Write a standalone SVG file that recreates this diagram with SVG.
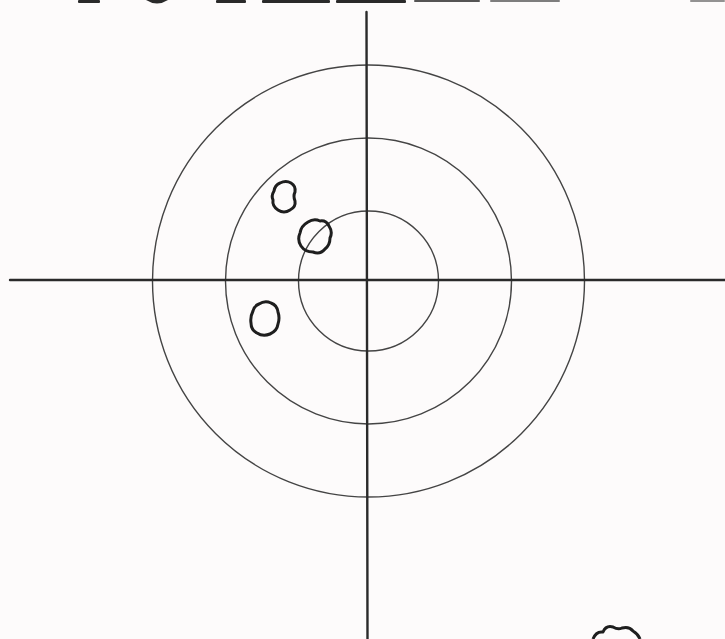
<svg xmlns="http://www.w3.org/2000/svg" width="725" height="639" viewBox="0 0 725 639">
  <style>
    .ring { fill: none; stroke: #444; stroke-width: 1.4; }
    .axis { stroke: #2a2a2a; stroke-width: 2.4; stroke-linecap: round; }
    .hole { fill: none; stroke: #1e1e1e; stroke-width: 3; stroke-linejoin: round; }
    .frag { fill: #2a2a2a; }
  </style>
  <rect width="725" height="639" fill="#fdfbfb"/>
  <g id="top-fragments">
    <rect class="frag" x="78" y="0" width="22" height="3" rx="1"/>
    <path class="frag" d="M146 0 Q157 7 168 0 Z"/>
    <rect class="frag" x="216" y="0" width="30" height="3" rx="1"/>
    <rect class="frag" x="262" y="0" width="68" height="3" rx="1"/>
    <rect class="frag" x="336" y="0" width="70" height="3" rx="1"/>
    <rect class="frag" x="414" y="0" width="66" height="2" rx="1" opacity="0.8"/>
    <rect class="frag" x="490" y="0" width="70" height="2" rx="1" opacity="0.6"/>
    <rect class="frag" x="690" y="0" width="35" height="2" rx="1" opacity="0.5"/>
  </g>
  <g id="target">
    <circle class="ring" cx="368.5" cy="281" r="216"/>
    <circle class="ring" cx="368.5" cy="281" r="143"/>
    <circle class="ring" cx="368.5" cy="281" r="70"/>
  </g>
  <g id="axes">
    <line class="axis" x1="10" y1="280" x2="725" y2="280"/>
    <line class="axis" x1="366.5" y1="12" x2="367.5" y2="639"/>
  </g>
  <g id="holes">
    <path class="hole" d="M280 183 Q286 180 291 183 Q296 186 295 192 Q293 196 295 201 Q296 207 290 210 Q284 214 278 210 Q272 206 273 200 Q271 196 274 191 Q275 185 280 183 Z"/>
    <path class="hole" d="M308 222 Q314 218 320 221 Q326 220 329 226 Q333 232 330 238 Q330 245 325 249 Q320 255 313 252 Q305 252 301 246 Q297 240 300 233 Q301 226 308 222 Z"/>
    <path class="hole" d="M259 304 Q265 300 271 303 Q277 305 278 312 Q280 318 278 324 Q277 331 270 334 Q263 337 257 333 Q251 330 251 323 Q250 317 253 311 Q254 306 259 304 Z"/>
    <path class="hole" d="M593 639 Q596 631 603 632 Q606 625 613 627 Q618 630 622 628 Q629 626 633 631 Q638 634 640 639"/>
  </g>
</svg>
